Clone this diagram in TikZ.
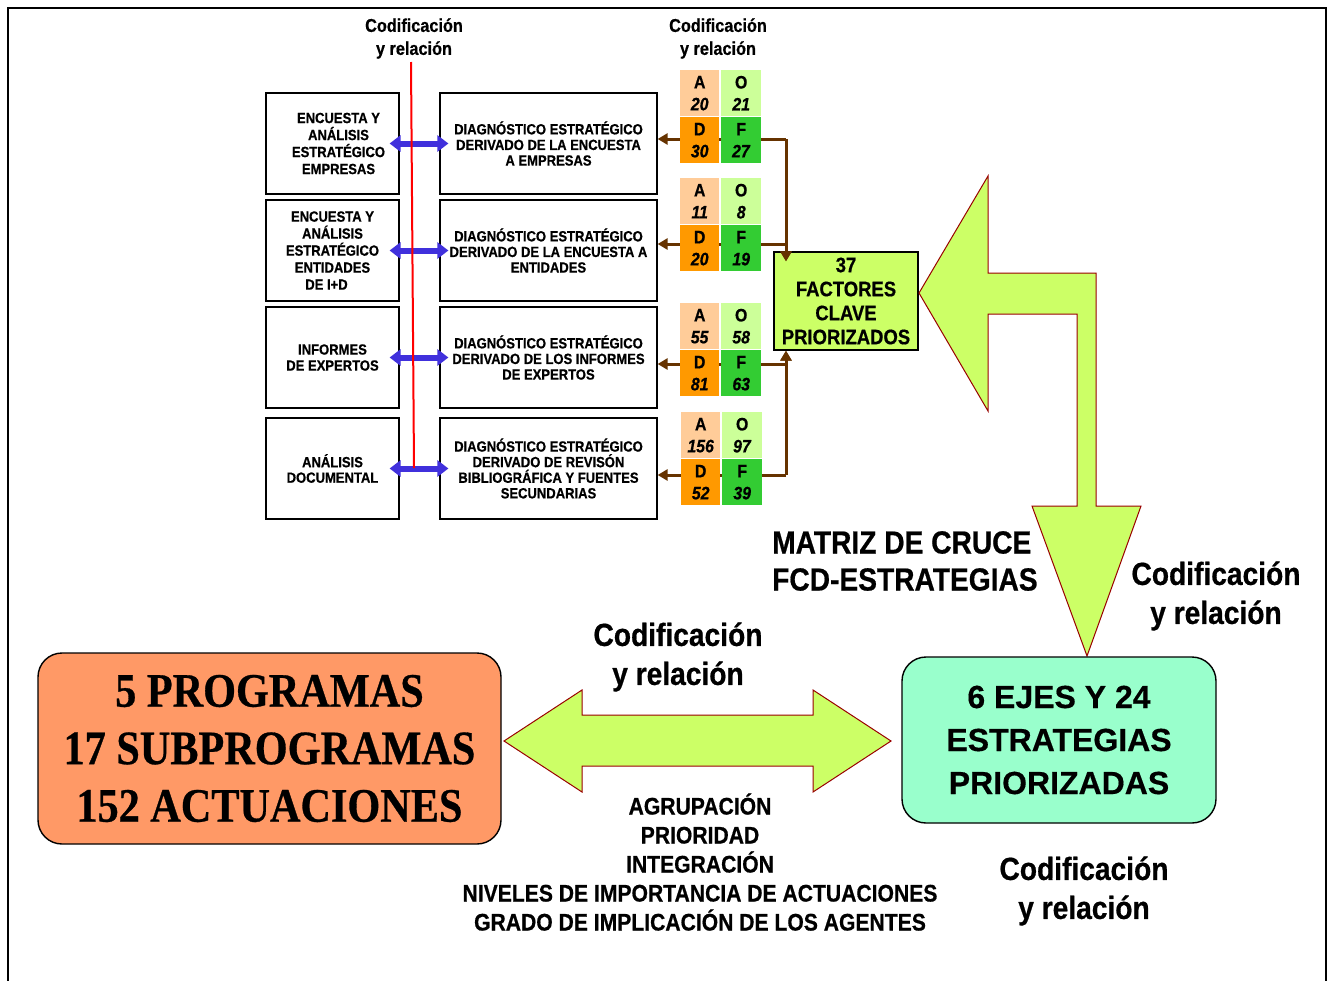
\documentclass[tikz,border=0pt]{standalone}
\usepackage{fontspec}
\setmainfont{Liberation Sans}
\newfontfamily\csans{Liberation Sans}[FakeStretch=0.88, FakeBold=0.6,
  UprightFont=* Bold, ItalicFont=* Bold Italic, BoldFont=* Bold, BoldItalicFont=* Bold Italic]
\newfontfamily\cserif{Liberation Serif}[FakeStretch=0.88, FakeBold=0.6,
  UprightFont=* Bold, BoldFont=* Bold]
\newfontfamily\bsans{Liberation Sans}[FakeBold=0.4, UprightFont=* Bold, BoldFont=* Bold]
\usetikzlibrary{arrows.meta}
\definecolor{cA}{HTML}{FFCC99}
\definecolor{cO}{HTML}{CCFF99}
\definecolor{cD}{HTML}{FF9900}
\definecolor{cF}{HTML}{33CC33}
\definecolor{cFac}{HTML}{CCFF66}
\definecolor{cArrow}{HTML}{CCFF66}
\definecolor{cArrowLine}{HTML}{990000}
\definecolor{cOrange}{HTML}{FF9966}
\definecolor{cTeal}{HTML}{99FFCC}
\definecolor{cBrown}{HTML}{663300}
\definecolor{cBlue}{HTML}{4030DC}
\tikzset{
  srcbox/.style={draw=black, line width=1.2pt, fill=white, inner sep=0pt, align=center,
    minimum width=133pt, minimum height=101pt,
    font=\csans\fontsize{14.8}{17}\selectfont},
  diagbox/.style={draw=black, line width=1.2pt, fill=white, inner sep=0pt, align=center,
    minimum width=217pt, minimum height=101pt,
    font=\csans\fontsize{14.8}{15.6}\selectfont},
  cell/.style={inner sep=0pt, minimum height=46pt, anchor=north west, align=center,
    font=\csans\fontsize{18}{22}\selectfont},
  bluearr/.style={draw=cBlue, line width=6pt,
    {Triangle[length=11pt,width=16pt]}-{Triangle[length=11pt,width=16pt]}},
  brownarr/.style={draw=cBrown, line width=3pt, -{Triangle[length=10pt,width=11pt]}},
  codlabel/.style={inner sep=0pt, align=center, font=\csans\fontsize{18.5}{23}\selectfont},
  biglabel/.style={inner sep=0pt, align=center, font=\csans\fontsize{32}{39}\selectfont},
  bigarrow/.style={fill=cArrow, draw=cArrowLine, line width=1pt, line join=miter},
}
\newcommand\swotgrid[7]{%
  \node[cell,fill=cA,minimum width=39pt] (#1a) at (#2,#3) {A\\\textit{#4}};
  \node[cell,fill=cO,minimum width=40pt] (#1o) at ({#2+41},#3) {O\\\textit{#5}};
  \node[cell,fill=cD,minimum width=39pt] (#1d) at (#2,{#3+47}) {D\\\textit{#6}};
  \node[cell,fill=cF,minimum width=40pt] (#1f) at ({#2+41},{#3+47}) {F\\\textit{#7}};
}
\begin{document}
\begin{tikzpicture}[x=1pt,y=-1pt]
\useasboundingbox (0,0) rectangle (1332,980);
\fill[white] (0,0) rectangle (1332,980);
% frame
\draw[line width=2pt] (8,981) -- (8,8) -- (1326,8) -- (1326,981);

% top labels
\node[codlabel] (cod1) at (414,38.5) {Codificación\\y relación};
\node[codlabel] (cod2) at (718,38.5) {Codificación\\y relación};

% source boxes
\node[srcbox] (s1) at (332.5,143.5) {\hspace*{12pt}ENCUESTA Y\\\hspace*{12pt}ANÁLISIS\\\hspace*{12pt}ESTRATÉGICO\\\hspace*{12pt}EMPRESAS};
\node[srcbox] (s2) at (332.5,250.5) {ENCUESTA Y\\ANÁLISIS\\ESTRATÉGICO\\ENTIDADES\\DE I+D\hspace*{12pt}};
\node[srcbox, font=\csans\fontsize{14.8}{16}\selectfont] (s3) at (332.5,357.5) {INFORMES\\DE EXPERTOS};
\node[srcbox, font=\csans\fontsize{14.8}{15.5}\selectfont] (s4) at (332.5,468.5) {ANÁLISIS\\DOCUMENTAL};

% diagnosis boxes
\node[diagbox] (d1) at (548.5,143.5) {DIAGNÓSTICO ESTRATÉGICO\\DERIVADO DE LA ENCUESTA\\A EMPRESAS};
\node[diagbox] (d2) at (548.5,250.5) {DIAGNÓSTICO ESTRATÉGICO\\DERIVADO DE LA ENCUESTA A\\ENTIDADES};
\node[diagbox] (d3) at (548.5,357.5) {DIAGNÓSTICO ESTRATÉGICO\\DERIVADO DE LOS INFORMES\\DE EXPERTOS};
\node[diagbox] (d4) at (548.5,468.5) {DIAGNÓSTICO ESTRATÉGICO\\DERIVADO DE REVISÓN\\BIBLIOGRÁFICA Y FUENTES\\SECUNDARIAS};

% blue double arrows
\draw[bluearr] ([xshift=-10pt]s1.east) -- ([xshift=9pt]d1.west);
\draw[bluearr] ([xshift=-10pt]s2.east) -- ([xshift=9pt]d2.west);
\draw[bluearr] ([xshift=-10pt]s3.east) -- ([xshift=9pt]d3.west);
\draw[bluearr] ([xshift=-10pt]s4.east) -- ([xshift=9pt]d4.west);

% red line
\coordinate (rtop) at (411,62);
\coordinate (rbot) at (414,468);
\draw[red, line width=2pt] (rtop) -- (rbot);

% factors box
\node[draw=black, line width=1.4pt, fill=cFac, minimum width=144pt, minimum height=98pt,
  inner sep=0pt, align=center, font=\csans\fontsize{21}{24}\selectfont]
  (fac) at (846,301) {37\\FACTORES\\CLAVE\\PRIORIZADOS};
\coordinate (facin) at ([yshift=-10pt]fac.north);

% brown connectors (behind cells)
\coordinate (j1) at (786,139);
\coordinate (j2) at (786,244);
\coordinate (j3) at (786,364);
\coordinate (j4) at (786,475);
\draw[brownarr] (j1) -- (d1.east |- j1);
\draw[brownarr] (j2) -- (d2.east |- j2);
\draw[brownarr] (j3) -- (d3.east |- j3);
\draw[brownarr] (j4) -- (d4.east |- j4);
\draw[brownarr] (j1) -- (j1 |- facin);
\draw[brownarr] (j2) -- (j2 |- facin);
\draw[brownarr] (j3) -- (j3 |- fac.south);
\draw[brownarr] (j4) -- (j4 |- fac.south);

% SWOT grids
\swotgrid{g1}{680}{70}{20}{21}{30}{27}
\swotgrid{g2}{680}{178}{11}{8}{20}{19}
\swotgrid{g3}{680}{303}{55}{58}{81}{63}
\swotgrid{g4}{681}{412}{156}{97}{52}{39}

% bent arrow
\draw[bigarrow] (919,293) -- (988,176) -- (988,273) -- (1096,273) -- (1096,506) -- (1141,506)
  -- (1087,656) -- (1032,506) -- (1077,506) -- (1077,314) -- (988,314) -- (988,411) -- cycle;

% big boxes
\node[draw=black, line width=1.4pt, fill=cOrange, rounded corners=24pt, minimum width=463pt,
  minimum height=191pt, inner sep=0pt, align=center,
  font=\cserif\fontsize{48}{57.5}\selectfont]
  (prog) at (269.5,748.5) {5 PROGRAMAS\\17 SUBPROGRAMAS\\152 ACTUACIONES};
\node[draw=black, line width=1.4pt, fill=cTeal, rounded corners=24pt, minimum width=314pt,
  minimum height=166pt, inner sep=0pt, align=center,
  font=\bsans\fontsize{32}{43}\selectfont]
  (ejes) at (1059,740) {6 EJES Y 24\\ESTRATEGIAS\\PRIORIZADAS};

% horizontal double arrow
\draw[bigarrow] (504,741) -- (582,690) -- (582,715) -- (813,715) -- (813,690) -- (891,741)
  -- (813,792) -- (813,766) -- (582,766) -- (582,792) -- cycle;

% labels
\node[inner sep=0pt, align=left, anchor=west, font=\csans\fontsize{32}{37}\selectfont]
  (matriz) at (772,561) {MATRIZ DE CRUCE\\FCD-ESTRATEGIAS};
\node[biglabel] (cod3) at (1216,596) {Codificación\\y relación};
\node[biglabel] (cod4) at (678,657) {Codificación\\y relación};
\node[biglabel] (cod5) at (1084,891) {Codificación\\y relación};
\node[inner sep=0pt, align=center, font=\csans\fontsize{24}{29}\selectfont]
  (crit) at (700,862) {AGRUPACIÓN\\PRIORIDAD\\INTEGRACIÓN\\NIVELES DE IMPORTANCIA DE ACTUACIONES\\GRADO DE IMPLICACIÓN DE LOS AGENTES};
\end{tikzpicture}
\end{document}
